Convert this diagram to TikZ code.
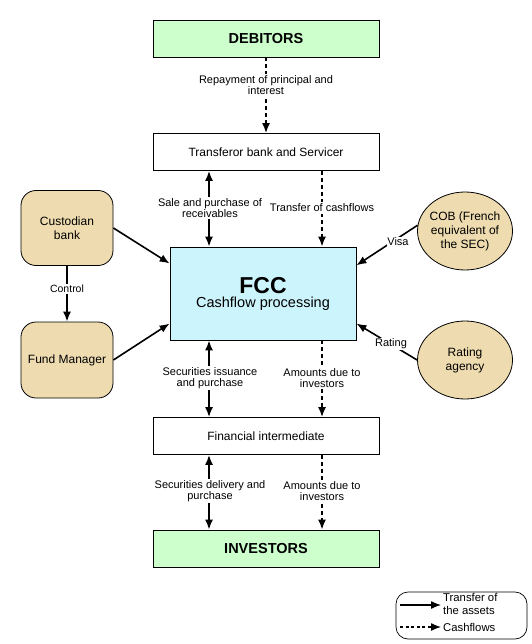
\documentclass[tikz,border=0pt]{standalone}
\usepackage{fontspec}
\setmainfont{Liberation Sans}
\usetikzlibrary{arrows.meta,shapes.geometric,calc}
\definecolor{boxgreen}{HTML}{CCFFCC}
\definecolor{boxcyan}{HTML}{CCF4FC}
\definecolor{boxtan}{HTML}{EEDCB0}
\begin{document}
\begin{tikzpicture}[x=1pt,y=-1pt,
  box/.style={draw, line width=0.8pt, minimum width=226pt, minimum height=37pt, inner sep=0pt, font=\fontsize{12}{14}\selectfont},
  endbox/.style={box, fill=boxgreen, font=\bfseries\fontsize{14.5}{16}\selectfont},
  party/.style={draw, line width=0.8pt, fill=boxtan, rounded corners=15pt, minimum width=92pt, minimum height=75pt, inner sep=0pt, align=center, font=\fontsize{12}{14.5}\selectfont},
  oval/.style={ellipse, draw, line width=0.8pt, fill=boxtan, minimum width=95pt, minimum height=78pt, inner sep=0pt},
  ovaltext/.style={align=center, inner sep=0pt, font=\fontsize{12}{14}\selectfont},
  asset/.style={line width=1.6pt, -{Latex[length=10pt,width=8pt]}},
  both/.style={line width=1.6pt, {Latex[length=10pt,width=8pt]}-{Latex[length=10pt,width=8pt]}},
  cash/.style={line width=1.6pt, dash pattern=on 4pt off 3pt, -{Latex[length=10pt,width=8pt]}},
  lbl/.style={fill=white, inner sep=1.5pt, align=center, font=\fontsize{11}{11.5}\selectfont}
]
\useasboundingbox (0,0) rectangle (531,644);

\node[endbox] (deb) at (266,38.5) {DEBITORS};
\node[box] (trans) at (266,152) {Transferor bank and Servicer};
\node[draw, line width=0.8pt, fill=boxcyan, minimum width=186pt, minimum height=93pt, inner sep=0pt, align=center] (fcc) at (263,293.5)
  {{\bfseries\fontsize{23}{25}\selectfont FCC}\\[2pt]{\fontsize{14.5}{16}\selectfont Cashflow processing}};
\node[box] (fin) at (266,436) {Financial intermediate};
\node[endbox] (inv) at (266,548.5) {INVESTORS};

\node[party] (cust) at (67,228) {Custodian\\bank};
\node[party, minimum height=76pt] (fund) at (67,360) {Fund Manager};
\node[oval] (cob) at (465,231) {};
\node[ovaltext] (cobt) at (cob.center) {COB (French\\equivalent of\\the SEC)};
\node[oval] (rate) at (465,360) {};
\node[ovaltext] (ratet) at (rate.center) {Rating\\agency};

\coordinate (lx) at (209,0);
\coordinate (rx) at (322,0);
\coordinate (mx) at (266,0);

% Debitors -> Transferor
\draw[cash] (deb.south -| mx) -- (trans.north -| mx);
\node[lbl] at (266,85) {Repayment of principal and\\interest};

% Transferor <-> FCC
\draw[both] (trans.south -| lx) -- (fcc.north -| lx);
\node[lbl] at (210,208) {Sale and purchase of\\receivables};
\draw[cash] (trans.south -| rx) -- (fcc.north -| rx);
\node[lbl] at (322,208) {Transfer of cashflows};

% FCC <-> Financial intermediate
\draw[both] (fcc.south -| lx) -- (fin.north -| lx);
\node[lbl] at (210,378) {Securities issuance\\and purchase};
\draw[cash] (fcc.south -| rx) -- (fin.north -| rx);
\node[lbl] at (322,378) {Amounts due to\\investors};

% Financial intermediate <-> Investors
\draw[both] (fin.south -| lx) -- (inv.north -| lx);
\node[lbl] at (210,491) {Securities delivery and\\purchase};
\draw[cash] (fin.south -| rx) -- (inv.north -| rx);
\node[lbl] at (322,491) {Amounts due to\\investors};

% Custodian / Fund manager
\draw[asset] (cust.south) -- (fund.north);
\node[lbl, font=\fontsize{10.5}{12}\selectfont] at (67,289) {Control};
\draw[asset] (cust.east) -- ($(fcc.north west)!0.18!(fcc.south west)$);
\draw[asset] (fund.east) -- ($(fcc.north west)!0.82!(fcc.south west)$);

% COB / Rating
\draw[asset] (cob.173) -- ($(fcc.north east)!0.2!(fcc.south east)$);
\node[lbl, inner sep=0.5pt] at (398,242) {Visa};
\draw[asset] (rate.west) -- ($(fcc.north east)!0.82!(fcc.south east)$);
\node[lbl, inner sep=0.5pt] at (391,344) {Rating};

% Legend
\node[draw, line width=0.7pt, rounded corners=12pt, minimum width=131pt, minimum height=47pt] (leg) at (461.5,615.5) {};
\coordinate (la1) at (400,605);
\coordinate (lb1) at (441,605);
\coordinate (la2) at (400,627);
\coordinate (lb2) at (441,627);
\draw[asset, line width=1.3pt] (la1) -- (lb1);
\draw[cash, line width=1.3pt, dash pattern=on 3pt off 2.5pt] (la2) -- (lb2);
\node[anchor=west, align=left, inner sep=0pt, font=\fontsize{11.3}{12.5}\selectfont] (legt1) at (443,604) {Transfer of\\the assets};
\node[anchor=west, inner sep=0pt, font=\fontsize{11.3}{12.5}\selectfont] (legt2) at (443,627) {Cashflows};
\end{tikzpicture}
\end{document}
